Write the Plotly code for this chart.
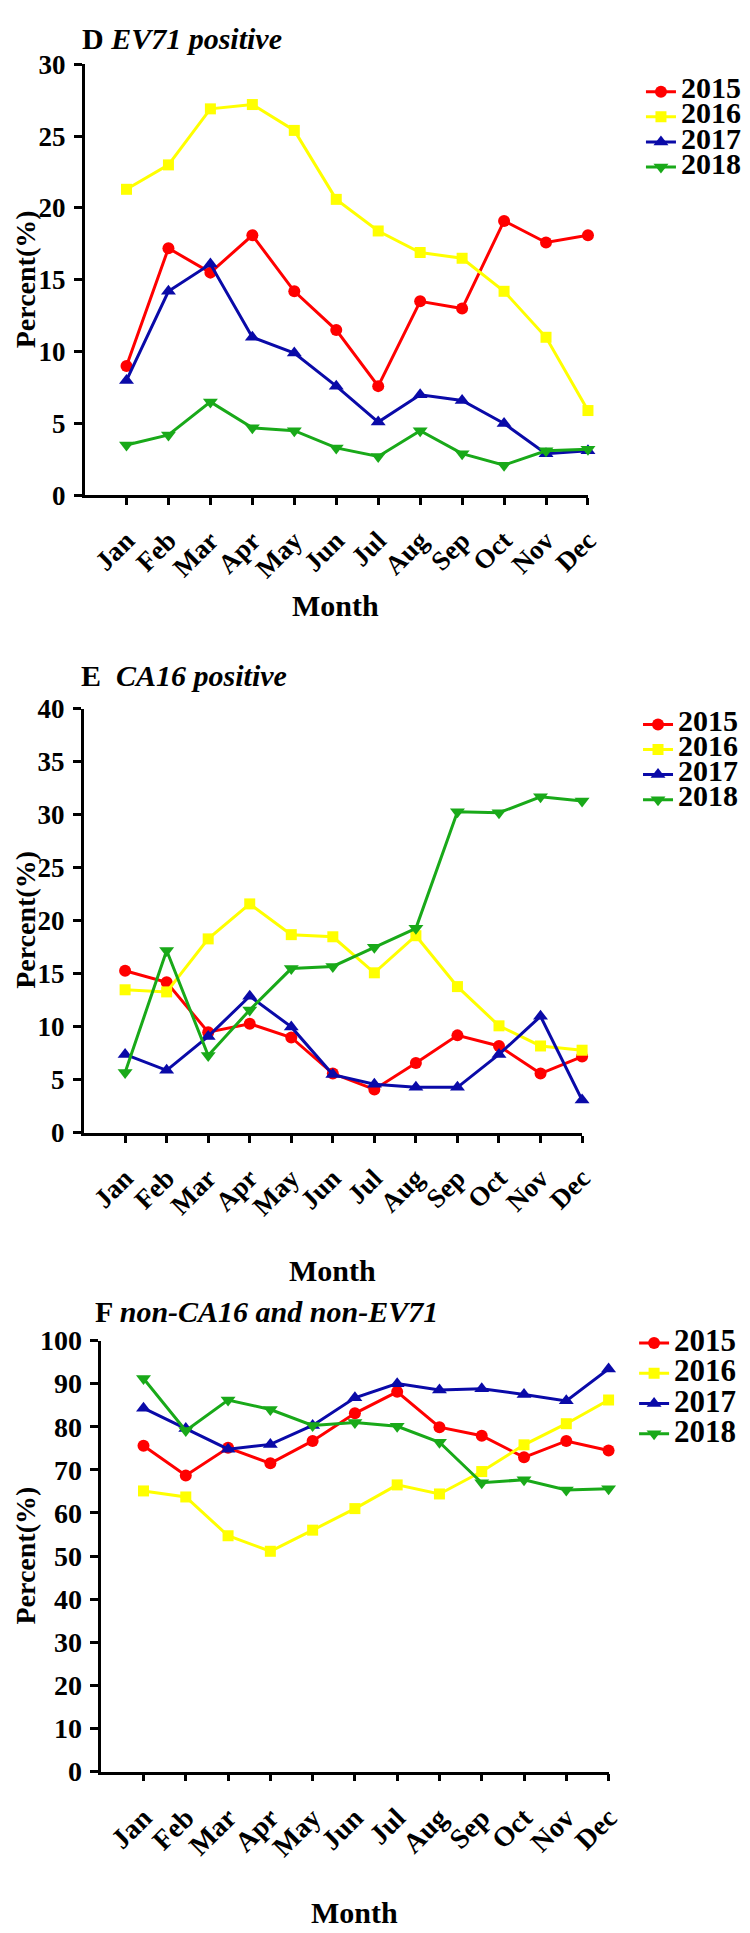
import plotly.graph_objects as go

W, H = 750, 1933

months = ["Jan", "Feb", "Mar", "Apr", "May", "Jun", "Jul", "Aug", "Sep", "Oct", "Nov", "Dec"]
years = ["2015", "2016", "2017", "2018"]

# Panel D: EV71 positive (%)
ev71_2015 = [9.0, 17.2, 15.5, 18.1, 14.2, 11.5, 7.6, 13.5, 13.0, 19.1, 17.6, 18.1]
ev71_2016 = [21.3, 23.0, 26.9, 27.2, 25.4, 20.6, 18.4, 16.9, 16.5, 14.2, 11.0, 5.9]
ev71_2017 = [8.0, 14.2, 16.1, 11.0, 9.9, 7.6, 5.1, 7.0, 6.6, 5.0, 2.9, 3.1]
ev71_2018 = [3.5, 4.2, 6.5, 4.7, 4.5, 3.3, 2.7, 4.5, 2.9, 2.1, 3.1, 3.2]

# Panel E: CA16 positive (%)
ca16_2015 = [15.3, 14.2, 9.5, 10.3, 9.0, 5.6, 4.1, 6.6, 9.2, 8.2, 5.6, 7.2]
ca16_2016 = [13.5, 13.3, 18.3, 21.6, 18.7, 18.5, 15.1, 18.6, 13.8, 10.1, 8.2, 7.8]
ca16_2017 = [7.4, 5.9, 9.1, 12.9, 10.0, 5.5, 4.6, 4.3, 4.3, 7.4, 11.0, 3.1]
ca16_2018 = [5.7, 17.2, 7.3, 11.6, 15.5, 15.7, 17.5, 19.3, 30.3, 30.2, 31.7, 31.3]

# Panel F: non-CA16 and non-EV71 (%)
other_2015 = [75.6, 68.7, 75.1, 71.5, 76.7, 83.1, 88.1, 79.9, 77.9, 72.9, 76.7, 74.5]
other_2016 = [65.1, 63.7, 54.7, 51.1, 56.0, 61.0, 66.5, 64.4, 69.6, 75.8, 80.7, 86.2]
other_2017 = [84.3, 79.6, 74.8, 75.9, 80.3, 86.7, 90.0, 88.5, 88.8, 87.5, 86.0, 93.4]
other_2018 = [91.2, 79.1, 86.2, 84.0, 80.3, 81.0, 80.1, 76.4, 67.0, 67.7, 65.3, 65.6]

colors = ["#FF0000", "#FFFF00", "#0A0AA8", "#19A919"]
symbols = ["circle", "square", "triangle-up", "triangle-down"]
msizes = [12, 11, 13, 13]

FONT = "Liberation Serif"

def fx(p):
    return p / W

def fy(p):
    return 1 - p / H

panels = [
    dict(series=[ev71_2015, ev71_2016, ev71_2017, ev71_2018], xa="x", ya="y", leg="legend",
         x0=78, x1=591, y0=42, y1=480, ymax=30, dtick=5, tick=27,
         title="<b>D <i>EV71 positive</i></b>", tx=73, ty=16,
         month=(334, 592), ytitle=261,
         legx=645, legy=52, legfont=17, legtext=30),
    dict(series=[ca16_2015, ca16_2016, ca16_2017, ca16_2018], xa="x2", ya="y2", leg="legend2",
         x0=77, x1=585, y0=697, y1=1128, ymax=40, dtick=5, tick=27,
         title="<b>E\u00a0\u00a0<i>CA16 positive</i></b>", tx=72, ty=663,
         month=(331, 1268), ytitle=912,
         legx=642, legy=695, legfont=17, legtext=30),
    dict(series=[other_2015, other_2016, other_2017, other_2018], xa="x3", ya="y3", leg="legend3",
         x0=95, x1=612, y0=1339, y1=1777, ymax=100, dtick=10, tick=28,
         title="<b>F <i>non-CA16 and non-EV71</i></b>", tx=87, ty=1310,
         month=(353, 1920), ytitle=1558,
         legx=638, legy=1321, legfont=21, legtext=31),
]

fig = go.Figure()
layout = dict(width=W, height=H, margin=dict(l=0, r=0, t=0, b=0),
              paper_bgcolor="white", plot_bgcolor="white",
              font=dict(family=FONT, color="black"), annotations=[])

for i, p in enumerate(panels):
    for k in range(4):
        fig.add_trace(go.Scatter(
            x=list(range(12)), y=p["series"][k],
            mode="lines+markers",
            name='<span style="font-size:%dpx">%s</span>' % (p["legtext"], years[k]),
            line=dict(color=colors[k], width=3),
            marker=dict(symbol=symbols[k], size=msizes[k], color=colors[k]),
            xaxis=p["xa"], yaxis=p["ya"], legend=p["leg"], cliponaxis=False,
        ))
    sfx = "" if i == 0 else str(i + 1)
    axcommon = dict(showline=True, linecolor="black", linewidth=2.5, ticks="outside",
                    tickcolor="black", tickwidth=2.5, showgrid=False, zeroline=False,
                    tickfont=dict(family=FONT, size=p["tick"], color="black", weight="bold"))
    layout["xaxis" + sfx] = dict(
        domain=[fx(p["x0"]), fx(p["x1"])], anchor="y" + sfx, range=[-1, 11],
        tickmode="array", tickvals=list(range(12)), ticktext=months, tickangle=-45,
        ticklen=7, ticklabelstandoff=9, **axcommon)
    layout["yaxis" + sfx] = dict(
        domain=[fy(p["y1"]), fy(p["y0"])], anchor="x" + sfx, range=[0, p["ymax"]],
        dtick=p["dtick"], tick0=0, ticklen=8, ticklabelstandoff=3, **axcommon)
    layout[p["leg"]] = dict(
        x=fx(p["legx"]), y=fy(p["legy"]), xanchor="left", yanchor="top",
        bgcolor="rgba(0,0,0,0)", borderwidth=0, itemwidth=30, tracegroupgap=0,
        font=dict(family=FONT, size=p["legfont"], color="black", weight="bold"))
    layout["annotations"] += [
        dict(text=p["title"], x=fx(p["tx"]), y=fy(p["ty"]), xref="paper", yref="paper",
             xanchor="left", yanchor="middle", showarrow=False,
             font=dict(family=FONT, size=30, color="black")),
        dict(text="<b>Month</b>", x=fx(p["month"][0]), y=fy(p["month"][1]), xref="paper",
             yref="paper", xanchor="center", yanchor="middle", showarrow=False,
             font=dict(family=FONT, size=30, color="black")),
        dict(text="<b>Percent(%)</b>", x=0, y=fy(p["ytitle"]),
             xref="paper", yref="paper", xanchor="left", yanchor="middle",
             showarrow=False, textangle=-90,
             font=dict(family=FONT, size=28, color="black")),
    ]

fig.update_layout(**layout)
fig.write_html("out.html")
